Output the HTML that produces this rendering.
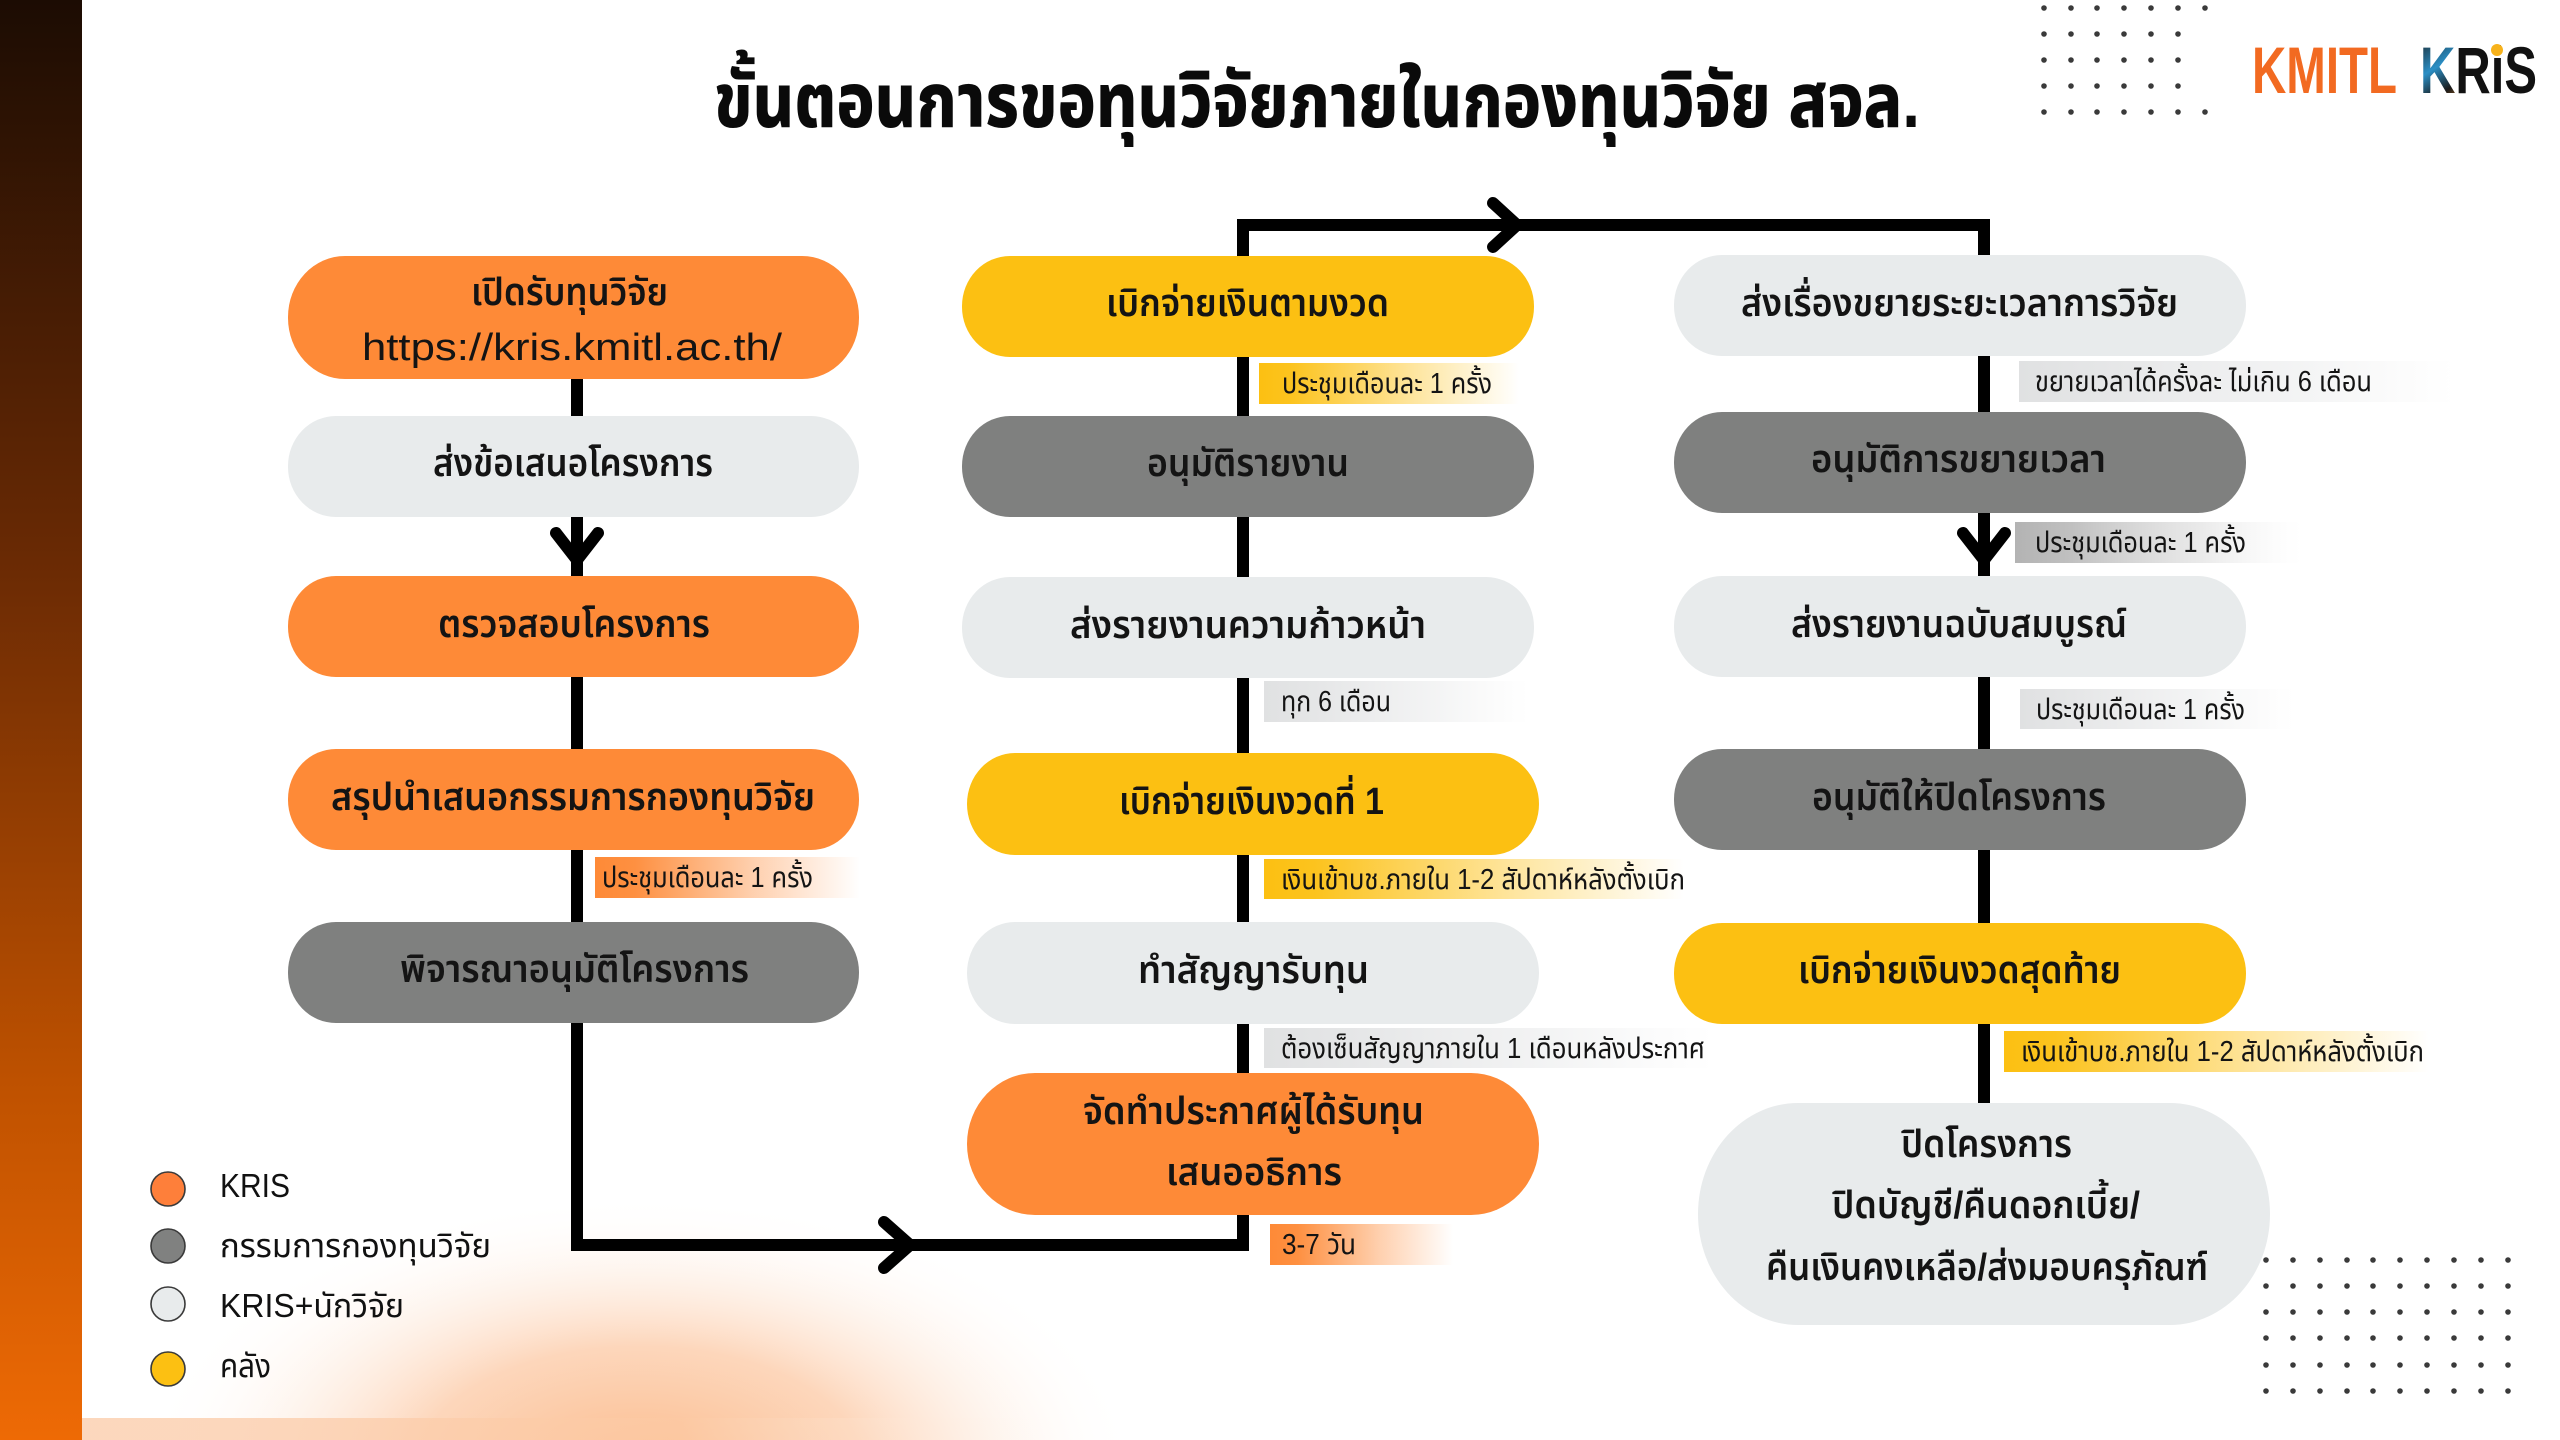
<!DOCTYPE html>
<html>
<head>
<meta charset="utf-8">
<style>
html,body{margin:0;padding:0;width:2560px;height:1440px;overflow:hidden;background:#ffffff;}
svg{display:block;overflow:hidden;}
.th{font-family:"Liberation Sans","Noto Sans Thai","Noto Sans Thai UI","Garuda","Loma","Tlwg Typo","DejaVu Sans",sans-serif;}
.node{font-size:38px;font-weight:600;fill:#141414;}
.tag{font-size:29px;font-weight:400;fill:#141414;}
.leg{font-size:33px;font-weight:400;fill:#111;}
.title{font-size:76px;font-weight:800;fill:#0a0a0a;}
</style>
</head>
<body>
<svg width="2560" height="1440" viewBox="0 0 2560 1440" xmlns="http://www.w3.org/2000/svg">
<defs>
  <linearGradient id="bar" x1="0" y1="0" x2="0" y2="1">
    <stop offset="0" stop-color="#1c0c03"/>
    <stop offset="0.39" stop-color="#6a2a04"/>
    <stop offset="0.76" stop-color="#c05200"/>
    <stop offset="1" stop-color="#ee6a05"/>
  </linearGradient>
  <radialGradient id="glow" gradientUnits="userSpaceOnUse" cx="640" cy="1470" r="500" gradientTransform="translate(640 1470) scale(1 0.55) translate(-640 -1470)">
    <stop offset="0" stop-color="#fbbb8c" stop-opacity="1"/>
    <stop offset="0.45" stop-color="#fcc59e" stop-opacity="0.7"/>
    <stop offset="1" stop-color="#ffffff" stop-opacity="0"/>
  </radialGradient>
  <linearGradient id="strip" x1="0" y1="0" x2="1" y2="0">
    <stop offset="0" stop-color="#fcd3b6" stop-opacity="0.9"/>
    <stop offset="0.6" stop-color="#fcc9a3" stop-opacity="0.7"/>
    <stop offset="1" stop-color="#ffffff" stop-opacity="0"/>
  </linearGradient>
  <linearGradient id="gOr" x1="0" y1="0" x2="1" y2="0">
    <stop offset="0" stop-color="#fe8a37" stop-opacity="1"/>
    <stop offset="0.15" stop-color="#fe8a37" stop-opacity="0.95"/>
    <stop offset="0.6" stop-color="#fe8a37" stop-opacity="0.4"/>
    <stop offset="1" stop-color="#fe8a37" stop-opacity="0"/>
  </linearGradient>
  <linearGradient id="gYe" x1="0" y1="0" x2="1" y2="0">
    <stop offset="0" stop-color="#fcc012" stop-opacity="1"/>
    <stop offset="0.12" stop-color="#fcc012" stop-opacity="0.95"/>
    <stop offset="0.6" stop-color="#fcc012" stop-opacity="0.4"/>
    <stop offset="1" stop-color="#fcc012" stop-opacity="0"/>
  </linearGradient>
  <linearGradient id="gLt" x1="0" y1="0" x2="1" y2="0">
    <stop offset="0" stop-color="#e0e1e2" stop-opacity="1"/>
    <stop offset="0.2" stop-color="#e4e5e6" stop-opacity="0.95"/>
    <stop offset="0.65" stop-color="#e8e9ea" stop-opacity="0.5"/>
    <stop offset="1" stop-color="#eeeeee" stop-opacity="0"/>
  </linearGradient>
  <linearGradient id="gMd" x1="0" y1="0" x2="1" y2="0">
    <stop offset="0" stop-color="#b3b3b3" stop-opacity="1"/>
    <stop offset="0.2" stop-color="#bdbdbd" stop-opacity="0.95"/>
    <stop offset="0.65" stop-color="#d5d5d5" stop-opacity="0.5"/>
    <stop offset="1" stop-color="#eeeeee" stop-opacity="0"/>
  </linearGradient>
  <linearGradient id="kgrad" x1="0" y1="0" x2="1" y2="1">
    <stop offset="0" stop-color="#1a1a1a"/>
    <stop offset="0.3" stop-color="#2a8fc6"/>
    <stop offset="0.5" stop-color="#1a1a1a"/>
    <stop offset="0.7" stop-color="#f08a22"/>
    <stop offset="1" stop-color="#1a1a1a"/>
  </linearGradient>
</defs>

<!-- background -->
<rect x="0" y="0" width="2560" height="1440" fill="#ffffff"/>
<rect x="82" y="1160" width="1160" height="280" fill="url(#glow)"/>
<rect x="82" y="1418" width="1000" height="22" fill="url(#strip)"/>
<rect x="0" y="0" width="82" height="1440" fill="url(#bar)"/>

<!-- dots top-right -->
<g fill="#3a3a3a">
  <circle cx="2044" cy="8" r="2.8"/><circle cx="2071" cy="8" r="2.8"/><circle cx="2097" cy="8" r="2.8"/><circle cx="2124" cy="8" r="2.8"/><circle cx="2151" cy="8" r="2.8"/><circle cx="2178" cy="8" r="2.8"/><circle cx="2205" cy="8" r="2.8"/>
  <circle cx="2044" cy="34" r="2.8"/><circle cx="2071" cy="34" r="2.8"/><circle cx="2097" cy="34" r="2.8"/><circle cx="2124" cy="34" r="2.8"/><circle cx="2151" cy="34" r="2.8"/><circle cx="2178" cy="34" r="2.8"/>
  <circle cx="2044" cy="60" r="2.8"/><circle cx="2071" cy="60" r="2.8"/><circle cx="2097" cy="60" r="2.8"/><circle cx="2124" cy="60" r="2.8"/><circle cx="2151" cy="60" r="2.8"/><circle cx="2178" cy="60" r="2.8"/>
  <circle cx="2044" cy="86" r="2.8"/><circle cx="2071" cy="86" r="2.8"/><circle cx="2097" cy="86" r="2.8"/><circle cx="2124" cy="86" r="2.8"/><circle cx="2151" cy="86" r="2.8"/><circle cx="2178" cy="86" r="2.8"/>
  <circle cx="2044" cy="112" r="2.8"/><circle cx="2071" cy="112" r="2.8"/><circle cx="2097" cy="112" r="2.8"/><circle cx="2124" cy="112" r="2.8"/><circle cx="2151" cy="112" r="2.8"/><circle cx="2178" cy="112" r="2.8"/><circle cx="2205" cy="112" r="2.8"/>
</g>

<!-- dots bottom-right -->
<g fill="#3a3a3a">
  <circle cx="2266" cy="1260" r="2.8"/><circle cx="2293" cy="1260" r="2.8"/><circle cx="2320" cy="1260" r="2.8"/><circle cx="2347" cy="1260" r="2.8"/><circle cx="2373" cy="1260" r="2.8"/><circle cx="2400" cy="1260" r="2.8"/><circle cx="2427" cy="1260" r="2.8"/><circle cx="2454" cy="1260" r="2.8"/><circle cx="2481" cy="1260" r="2.8"/><circle cx="2508" cy="1260" r="2.8"/>
  <circle cx="2266" cy="1286" r="2.8"/><circle cx="2293" cy="1286" r="2.8"/><circle cx="2320" cy="1286" r="2.8"/><circle cx="2347" cy="1286" r="2.8"/><circle cx="2373" cy="1286" r="2.8"/><circle cx="2400" cy="1286" r="2.8"/><circle cx="2427" cy="1286" r="2.8"/><circle cx="2454" cy="1286" r="2.8"/><circle cx="2481" cy="1286" r="2.8"/><circle cx="2508" cy="1286" r="2.8"/>
  <circle cx="2266" cy="1312" r="2.8"/><circle cx="2293" cy="1312" r="2.8"/><circle cx="2320" cy="1312" r="2.8"/><circle cx="2347" cy="1312" r="2.8"/><circle cx="2373" cy="1312" r="2.8"/><circle cx="2400" cy="1312" r="2.8"/><circle cx="2427" cy="1312" r="2.8"/><circle cx="2454" cy="1312" r="2.8"/><circle cx="2481" cy="1312" r="2.8"/><circle cx="2508" cy="1312" r="2.8"/>
  <circle cx="2266" cy="1338" r="2.8"/><circle cx="2293" cy="1338" r="2.8"/><circle cx="2320" cy="1338" r="2.8"/><circle cx="2347" cy="1338" r="2.8"/><circle cx="2373" cy="1338" r="2.8"/><circle cx="2400" cy="1338" r="2.8"/><circle cx="2427" cy="1338" r="2.8"/><circle cx="2454" cy="1338" r="2.8"/><circle cx="2481" cy="1338" r="2.8"/><circle cx="2508" cy="1338" r="2.8"/>
  <circle cx="2266" cy="1365" r="2.8"/><circle cx="2293" cy="1365" r="2.8"/><circle cx="2320" cy="1365" r="2.8"/><circle cx="2347" cy="1365" r="2.8"/><circle cx="2373" cy="1365" r="2.8"/><circle cx="2400" cy="1365" r="2.8"/><circle cx="2427" cy="1365" r="2.8"/><circle cx="2454" cy="1365" r="2.8"/><circle cx="2481" cy="1365" r="2.8"/><circle cx="2508" cy="1365" r="2.8"/>
  <circle cx="2266" cy="1391" r="2.8"/><circle cx="2293" cy="1391" r="2.8"/><circle cx="2320" cy="1391" r="2.8"/><circle cx="2347" cy="1391" r="2.8"/><circle cx="2373" cy="1391" r="2.8"/><circle cx="2400" cy="1391" r="2.8"/><circle cx="2427" cy="1391" r="2.8"/><circle cx="2454" cy="1391" r="2.8"/><circle cx="2481" cy="1391" r="2.8"/><circle cx="2508" cy="1391" r="2.8"/>
</g>

<!-- logo -->
<text x="2252" y="93" font-family="'Liberation Sans Narrow','Liberation Sans',sans-serif" font-size="66" font-weight="700" fill="#f26a21" textLength="145" lengthAdjust="spacingAndGlyphs">KMITL</text>
<text x="2420" y="93" font-family="'Liberation Sans Narrow','Liberation Sans',sans-serif" font-size="66" font-weight="700" fill="#111111" textLength="117" lengthAdjust="spacingAndGlyphs"><tspan fill="url(#kgrad)">K</tspan>RiS</text>
<circle cx="2497" cy="50" r="6" fill="#f7b21b"/>

<!-- title -->
<text class="th title" x="714" y="127" textLength="1206" lengthAdjust="spacingAndGlyphs">ขั้นตอนการขอทุนวิจัยภายในกองทุนวิจัย สจล.</text>

<!-- connectors -->
<polyline points="577,300 577,1245 1243,1245 1243,225 1984,225 1984,1110" fill="none" stroke="#000" stroke-width="12" stroke-linejoin="miter"/>
<g fill="none" stroke="#000" stroke-width="12" stroke-linecap="round" stroke-linejoin="round">
  <path d="M556 533 L577 560 L598 533"/>
  <path d="M1963 533 L1984 560 L2005 533"/>
  <path d="M1493 203 L1517 225 L1493 247"/>
  <path d="M884 1222 L910 1245 L884 1268"/>
</g>

<!-- column 1 nodes -->
<rect x="288" y="256" width="571" height="123" rx="57" ry="61" fill="#fe8a37"/>
<rect x="288" y="416" width="571" height="101" rx="48" ry="50" fill="#e8ebec"/>
<rect x="288" y="576" width="571" height="101" rx="48" ry="50" fill="#fe8a37"/>
<rect x="288" y="749" width="571" height="101" rx="48" ry="50" fill="#fe8a37"/>
<rect x="288" y="922" width="571" height="101" rx="48" ry="50" fill="#7f807f"/>

<!-- column 2 nodes -->
<rect x="962" y="256" width="572" height="101" rx="48" ry="50" fill="#fcc012"/>
<rect x="962" y="416" width="572" height="101" rx="48" ry="50" fill="#7f807f"/>
<rect x="962" y="577" width="572" height="101" rx="48" ry="50" fill="#e8ebec"/>
<rect x="967" y="753" width="572" height="102" rx="48" ry="51" fill="#fcc012"/>
<rect x="967" y="922" width="572" height="102" rx="48" ry="51" fill="#e8ebec"/>
<rect x="967" y="1073" width="572" height="142" rx="68" ry="71" fill="#fe8a37"/>

<!-- column 3 nodes -->
<rect x="1674" y="255" width="572" height="101" rx="48" ry="50" fill="#e8ebec"/>
<rect x="1674" y="412" width="572" height="101" rx="48" ry="50" fill="#7f807f"/>
<rect x="1674" y="576" width="572" height="101" rx="48" ry="50" fill="#e8ebec"/>
<rect x="1674" y="749" width="572" height="101" rx="48" ry="50" fill="#7f807f"/>
<rect x="1674" y="923" width="572" height="101" rx="48" ry="50" fill="#fcc012"/>
<rect x="1698" y="1103" width="572" height="222" rx="100" ry="111" fill="#e8ebec"/>

<!-- tags -->
<rect x="595" y="857" width="265" height="41" fill="url(#gOr)"/>
<rect x="1259" y="363" width="260" height="41" fill="url(#gYe)"/>
<rect x="1264" y="681" width="265" height="41" fill="url(#gLt)"/>
<rect x="1264" y="859" width="420" height="40" fill="url(#gYe)"/>
<rect x="1264" y="1028" width="450" height="40" fill="url(#gLt)"/>
<rect x="1270" y="1224" width="183" height="41" fill="url(#gOr)"/>
<rect x="2019" y="361" width="436" height="41" fill="url(#gLt)"/>
<rect x="2015" y="522" width="287" height="41" fill="url(#gMd)"/>
<rect x="2020" y="689" width="274" height="40" fill="url(#gLt)"/>
<rect x="2004" y="1031" width="425" height="41" fill="url(#gYe)"/>

<!-- node text -->
<g class="th node">
  <text x="471" y="305" textLength="197" lengthAdjust="spacingAndGlyphs">เปิดรับทุนวิจัย</text>
  <text x="433" y="476" textLength="280" lengthAdjust="spacingAndGlyphs">ส่งข้อเสนอโครงการ</text>
  <text x="438" y="637" textLength="272" lengthAdjust="spacingAndGlyphs">ตรวจสอบโครงการ</text>
  <text x="331" y="810" textLength="484" lengthAdjust="spacingAndGlyphs">สรุปนำเสนอกรรมการกองทุนวิจัย</text>
  <text x="400" y="982" textLength="349" lengthAdjust="spacingAndGlyphs">พิจารณาอนุมัติโครงการ</text>

  <text x="1106" y="316" textLength="283" lengthAdjust="spacingAndGlyphs">เบิกจ่ายเงินตามงวด</text>
  <text x="1147" y="476" textLength="202" lengthAdjust="spacingAndGlyphs">อนุมัติรายงาน</text>
  <text x="1070" y="638" textLength="356" lengthAdjust="spacingAndGlyphs">ส่งรายงานความก้าวหน้า</text>
  <text x="1119" y="814" textLength="265" lengthAdjust="spacingAndGlyphs">เบิกจ่ายเงินงวดที่ 1</text>
  <text x="1138" y="983" textLength="231" lengthAdjust="spacingAndGlyphs">ทำสัญญารับทุน</text>
  <text x="1083" y="1124" textLength="341" lengthAdjust="spacingAndGlyphs">จัดทำประกาศผู้ได้รับทุน</text>
  <text x="1166" y="1185" textLength="176" lengthAdjust="spacingAndGlyphs">เสนออธิการ</text>

  <text x="1741" y="316" textLength="437" lengthAdjust="spacingAndGlyphs">ส่งเรื่องขยายระยะเวลาการวิจัย</text>
  <text x="1811" y="472" textLength="295" lengthAdjust="spacingAndGlyphs">อนุมัติการขยายเวลา</text>
  <text x="1791" y="637" textLength="336" lengthAdjust="spacingAndGlyphs">ส่งรายงานฉบับสมบูรณ์</text>
  <text x="1812" y="810" textLength="294" lengthAdjust="spacingAndGlyphs">อนุมัติให้ปิดโครงการ</text>
  <text x="1798" y="983" textLength="323" lengthAdjust="spacingAndGlyphs">เบิกจ่ายเงินงวดสุดท้าย</text>
  <text x="1901" y="1157" textLength="171" lengthAdjust="spacingAndGlyphs">ปิดโครงการ</text>
  <text x="1832" y="1218" textLength="308" lengthAdjust="spacingAndGlyphs">ปิดบัญชี/คืนดอกเบี้ย/</text>
  <text x="1766" y="1280" textLength="442" lengthAdjust="spacingAndGlyphs">คืนเงินคงเหลือ/ส่งมอบครุภัณฑ์</text>
</g>
<text x="362" y="360" font-family="'Liberation Sans',sans-serif" font-size="38" font-weight="400" fill="#141414" textLength="420" lengthAdjust="spacingAndGlyphs">https://kris.kmitl.ac.th/</text>

<!-- tag text -->
<g class="th tag">
  <text x="602" y="887" textLength="211" lengthAdjust="spacingAndGlyphs">ประชุมเดือนละ 1 ครั้ง</text>
  <text x="1282" y="393" textLength="210" lengthAdjust="spacingAndGlyphs">ประชุมเดือนละ 1 ครั้ง</text>
  <text x="1281" y="711" textLength="110" lengthAdjust="spacingAndGlyphs">ทุก 6 เดือน</text>
  <text x="1281" y="889" textLength="404" lengthAdjust="spacingAndGlyphs">เงินเข้าบช.ภายใน 1-2 สัปดาห์หลังตั้งเบิก</text>
  <text x="1281" y="1058" textLength="424" lengthAdjust="spacingAndGlyphs">ต้องเซ็นสัญญาภายใน 1 เดือนหลังประกาศ</text>
  <text x="1282" y="1254" textLength="74" lengthAdjust="spacingAndGlyphs">3-7 วัน</text>
  <text x="2035" y="391" textLength="337" lengthAdjust="spacingAndGlyphs">ขยายเวลาได้ครั้งละ ไม่เกิน 6 เดือน</text>
  <text x="2035" y="552" textLength="211" lengthAdjust="spacingAndGlyphs">ประชุมเดือนละ 1 ครั้ง</text>
  <text x="2036" y="719" textLength="209" lengthAdjust="spacingAndGlyphs">ประชุมเดือนละ 1 ครั้ง</text>
  <text x="2021" y="1061" textLength="403" lengthAdjust="spacingAndGlyphs">เงินเข้าบช.ภายใน 1-2 สัปดาห์หลังตั้งเบิก</text>
</g>

<!-- legend -->
<g stroke="#3a3a3a" stroke-width="1.6">
  <circle cx="168" cy="1189" r="17" fill="#fe7f3a"/>
  <circle cx="168" cy="1246" r="17" fill="#808180"/>
  <circle cx="168" cy="1304" r="17" fill="#e8ebec"/>
  <circle cx="168" cy="1369" r="17" fill="#fcc012"/>
</g>
<g class="th leg">
  <text x="220" y="1197" textLength="70" lengthAdjust="spacingAndGlyphs">KRIS</text>
  <text x="220" y="1257" textLength="271" lengthAdjust="spacingAndGlyphs">กรรมการกองทุนวิจัย</text>
  <text x="220" y="1317" textLength="184" lengthAdjust="spacingAndGlyphs">KRIS+นักวิจัย</text>
  <text x="220" y="1377" textLength="51" lengthAdjust="spacingAndGlyphs">คลัง</text>
</g>
</svg>
</body>
</html>
